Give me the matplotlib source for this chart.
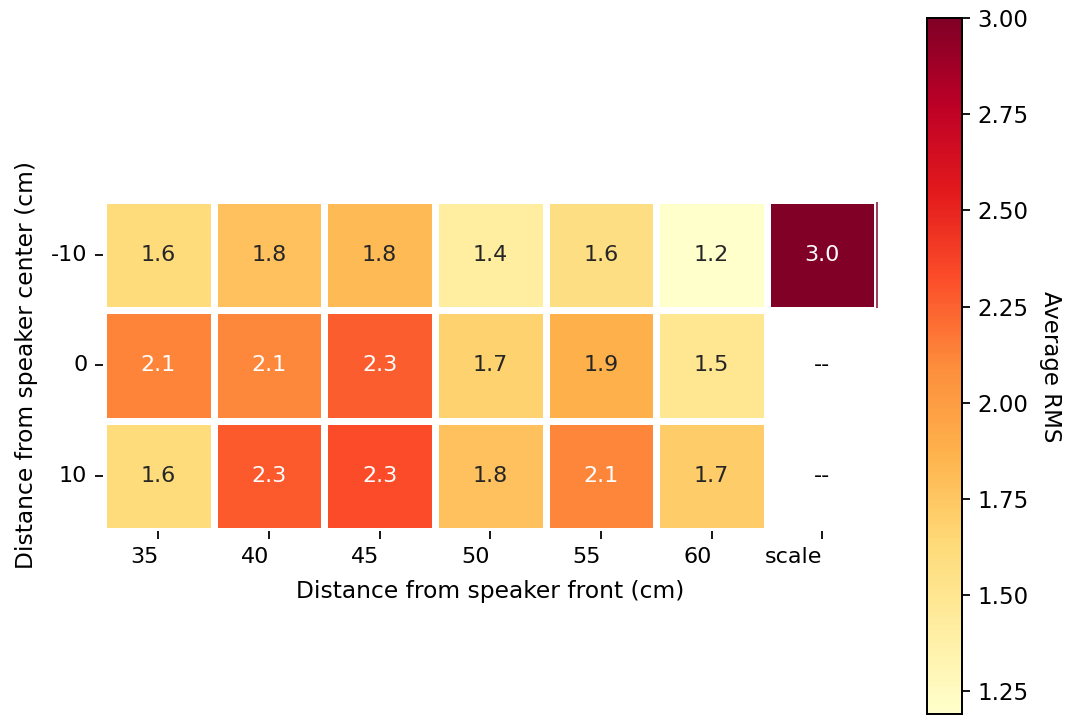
import numpy as np
import pandas as pd
import matplotlib
matplotlib.use("Agg")
import matplotlib.pyplot as plt
import seaborn as sns

# Distances from speaker front (cm) plus a reference "scale" column
front_cm = ["35", "40", "45", "50", "55", "60", "scale"]
# Offsets from speaker center (cm)
center_cm = ["-10", "0", "10"]

# Average RMS per position
rms_m10 = [1.62, 1.78, 1.82, 1.42, 1.58, 1.19, 3.00]
rms_0 = [2.13, 2.11, 2.27, 1.68, 1.88, 1.50, np.nan]
rms_10 = [1.62, 2.28, 2.33, 1.78, 2.12, 1.72, np.nan]

grid = pd.DataFrame([rms_m10, rms_0, rms_10], index=center_cm, columns=front_cm)

fig = plt.figure(figsize=(1068 / 160, 717 / 160), dpi=160)
ax = fig.add_axes([0.0964, 0.2594, 0.7252, 0.4617])
cax = fig.add_axes([0.868, 0.0035, 0.0328, 0.9714])

cmap = plt.get_cmap("YlOrRd")
sns.heatmap(
    grid,
    ax=ax,
    cbar_ax=cax,
    cmap=cmap,
    annot=True,
    fmt=".1f",
    linewidths=3,
    linecolor="white",
    annot_kws={"fontsize": 10},
)

# Mark the empty cells
for i, r in enumerate(grid.index):
    for j, c in enumerate(grid.columns):
        if np.isnan(grid.loc[r, c]):
            ax.text(j + 0.5, i + 0.5, "--", ha="center", va="center",
                    fontsize=10, color="black")

# Thin edge of the scale cell peeking past the outer grid line
j_scale = len(front_cm)
ax.plot([j_scale, j_scale], [0.02, 0.98], color=cmap(1.0), lw=0.9, alpha=0.75,
        clip_on=False, solid_capstyle="butt")

ax.set_xticklabels(front_cm, rotation=0, ha="right")
ax.set_yticklabels(center_cm, rotation=0)
ax.set_xlabel("Distance from speaker front (cm)", fontsize=10.5, labelpad=6)
ax.set_ylabel("Distance from speaker center (cm)", fontsize=10.5, labelpad=6)

cax.tick_params(labelsize=10.3)
cax.set_ylabel("Average RMS", rotation=270, labelpad=15, fontsize=10.3)
for s in cax.spines.values():
    s.set_visible(True)
    s.set_linewidth(0.8)
    s.set_color("black")

fig.savefig("out.png", dpi=160)
